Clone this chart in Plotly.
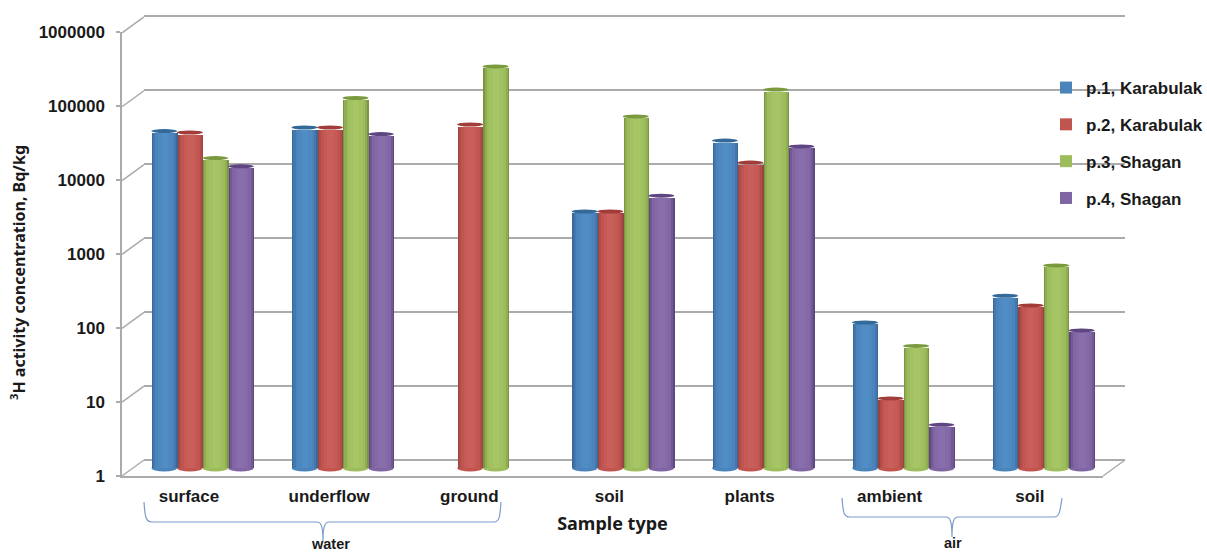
import plotly.graph_objects as go

W, H = 1207, 553

categories = ["surface", "underflow", "ground", "soil", "plants", "ambient", "soil"]
series_names = ["p.1, Karabulak", "p.2, Karabulak", "p.3, Shagan", "p.4, Shagan"]
p1_karabulak = [33600, 37500, None, 2750, 25000, 87, 200]
p2_karabulak = [32100, 37500, 41200, 2750, 12600, 8.2, 148]
p3_shagan = [14500, 94000, 251000, 52900, 122000, 42, 513]
p4_shagan = [11200, 30600, None, 4500, 20800, 3.6, 68]
series_values = [p1_karabulak, p2_karabulak, p3_shagan, p4_shagan]
tick_values = [1, 10, 100, 1000, 10000, 100000, 1000000]
tick_labels = ["1", "10", "100", "1000", "10000", "100000", "1000000"]

# shades from the cylinder's edge to its centre
shades = [
    ["#3a6897", "#4377ad", "#4a84bb", "#4d89c0", "#508dc4"],
    ["#974542", "#b04d4a", "#c0544f", "#c55a56", "#c95f5b"],
    ["#7a9544", "#8fae52", "#9dbd5c", "#a2c261", "#a6c666"],
    ["#5f4882", "#735896", "#8065a3", "#8569a8", "#896eac"],
]
top_colors = ["#336a9a", "#a23c39", "#7a9a3e", "#5f4682"]
widths = [1.0, 0.9, 0.74, 0.52, 0.26]
BAR_W = 0.182
DECADE_PX = 73.85
GRID_PAD = 0.05  # decades beyond the range ends, so the end gridlines draw


def fx(p):
    return p / W


def fy(p):
    return 1 - p / H


x_pos = list(range(len(categories)))
label_pos = [p - 0.022 for p in x_pos]
xr = [-0.5, len(categories) - 0.5]
fig = go.Figure()

# back wall and front axis subplots
fig.add_trace(go.Scatter(x=[None], y=[None], xaxis="x", yaxis="y", showlegend=False))
fig.add_trace(go.Scatter(x=[None], y=[None], xaxis="x2", yaxis="y2", showlegend=False))

for s, (name, vals) in enumerate(zip(series_names, series_values)):
    centre = (s - 1.5) * BAR_W
    for lvl, wf in enumerate(widths):
        w = BAR_W * wf
        fig.add_trace(go.Bar(
            x=x_pos, y=vals, xaxis="x3", yaxis="y3",
            width=w, offset=centre - w / 2,
            marker=dict(color=shades[s][lvl], line=dict(width=0)),
            name=name, legendgroup=name, showlegend=(lvl == 2),
        ))

shapes = []
line = dict(color="#ababab", width=1.5)
# depth diagonals
for k, v in enumerate(tick_values):
    y0 = 476 - DECADE_PX * k
    shapes.append(dict(type="line", xref="paper", yref="paper",
                       x0=fx(122), y0=fy(y0), x1=fx(144), y1=fy(y0 - 16), line=line))
shapes.append(dict(type="line", xref="paper", yref="paper",
                   x0=fx(1103), y0=fy(476), x1=fx(1125), y1=fy(460), line=line))

for s, vals in enumerate(series_values):
    off = (s - 1.5) * BAR_W
    for xp, v in zip(x_pos, vals):
        if v is None:
            continue
        shapes.append(dict(type="circle", layer="below", xref="x3", yref="paper",
                           xsizemode="pixel", ysizemode="pixel",
                           xanchor=xp + off, yanchor=fy(468),
                           x0=-12.7, x1=12.7, y0=-3.6, y1=3.6,
                           fillcolor=shades[s][2], line=dict(width=0)))
        shapes.append(dict(type="circle", layer="above", xref="x3", yref="y3",
                           xsizemode="pixel", ysizemode="pixel",
                           xanchor=xp + off, yanchor=v,
                           x0=-12.9, x1=12.9, y0=-4, y1=4,
                           fillcolor=top_colors[s], line=dict(width=0)))

brace = dict(color="#7b9ccb", width=1.2)
shapes.append(dict(type="path", xref="paper", yref="paper", line=brace,
                   path=(f"M{fx(144)},{fy(502)} C{fx(145)},{fy(515)} {fx(145)},{fy(522)} {fx(152)},{fy(522)} "
                         f"L{fx(317)},{fy(522)} C{fx(321)},{fy(522)} {fx(323)},{fy(526)} {fx(323)},{fy(541)} "
                         f"C{fx(323)},{fy(526)} {fx(325)},{fy(522)} {fx(329)},{fy(522)} "
                         f"L{fx(494)},{fy(522)} C{fx(500)},{fy(522)} {fx(500)},{fy(515)} {fx(501)},{fy(502)}")))
shapes.append(dict(type="path", xref="paper", yref="paper", line=brace,
                   path=(f"M{fx(842)},{fy(498)} C{fx(843)},{fy(510)} {fx(843)},{fy(517)} {fx(850)},{fy(517)} "
                         f"L{fx(946)},{fy(517)} C{fx(950)},{fy(517)} {fx(952)},{fy(521)} {fx(952)},{fy(537)} "
                         f"C{fx(952)},{fy(521)} {fx(954)},{fy(517)} {fx(958)},{fy(517)} "
                         f"L{fx(1054)},{fy(517)} C{fx(1060)},{fy(517)} {fx(1060)},{fy(510)} {fx(1062)},{fy(498)}")))

bold = dict(family="Liberation Sans", size=17, color="#1a1a1a", weight=700)
ytitle_font = dict(family="Noto Sans", size=16, color="#1a1a1a", weight=700)
xtitle_font = dict(family="Noto Sans", size=18, color="#1a1a1a", weight=700)
small_font = dict(family="Liberation Sans", size=14.5, color="#1a1a1a", weight=700)

annotations = [
    dict(text="<sup>3</sup>H activity concentration, Bq/kg", textangle=-90, xref="paper", yref="paper",
         x=fx(18), y=fy(273), showarrow=False, font=ytitle_font, xanchor="center", yanchor="middle"),
    dict(text="water", xref="paper", yref="paper", x=fx(330), y=fy(543.5), showarrow=False,
         font=small_font, xanchor="center", yanchor="middle"),
    dict(text="air", xref="paper", yref="paper", x=fx(953), y=fy(543), showarrow=False,
         font=small_font, xanchor="center", yanchor="middle"),
]

pad_px = GRID_PAD * DECADE_PX

fig.update_layout(
    width=W, height=H, margin=dict(l=0, r=0, t=0, b=0, pad=0, autoexpand=False),
    paper_bgcolor="white", plot_bgcolor="rgba(0,0,0,0)",
    barmode="overlay", bargap=0, hovermode=False,
    shapes=shapes, annotations=annotations,
    legend=dict(x=fx(1046), xanchor="left", y=fy(70), yanchor="top", font=bold,
                traceorder="grouped", tracegroupgap=11.7, bgcolor="rgba(0,0,0,0)", borderwidth=0),
    # back wall
    xaxis=dict(domain=[fx(144), fx(1125)], range=xr, type="linear", anchor="y", visible=False, showgrid=False),
    yaxis=dict(domain=[fy(460 + pad_px), fy(16 - pad_px)], type="log", range=[-GRID_PAD, 6 + GRID_PAD],
               anchor="x", tickvals=tick_values,
               showgrid=True, gridcolor="#ababab", gridwidth=1.5, showticklabels=False, showline=False,
               zeroline=False, ticks=""),
    # front axes, carrying labels
    xaxis2=dict(domain=[fx(122), fx(1103)], range=xr, type="linear", anchor="y2", tickvals=label_pos,
                ticktext=categories, tickfont=bold, showgrid=False, zeroline=False, showline=True,
                linecolor="#ababab", linewidth=1.5, ticks="", ticklabelstandoff=4,
                title=dict(text="Sample type", font=xtitle_font, standoff=12)),
    yaxis2=dict(domain=[fy(476), fy(32)], type="log", range=[0, 6], anchor="x2", tickvals=tick_values,
                ticktext=tick_labels, tickfont=bold, showgrid=False, zeroline=False, showline=True,
                linecolor="#ababab", linewidth=1.5, ticks="outside", ticklen=4, tickcolor="#ababab",
                tickwidth=1.5, ticklabelstandoff=8),
    # bars sit at mid depth
    xaxis3=dict(domain=[fx(132.5), fx(1113.5)], range=xr, type="linear", anchor="y3", visible=False, showgrid=False),
    yaxis3=dict(domain=[fy(468), fy(24)], type="log", range=[0, 6], anchor="x3", visible=False, showgrid=False),
)

fig.write_html("out.html", config={"displayModeBar": False},
               post_script="document.body.style.margin='0';document.documentElement.style.overflow='hidden';")
